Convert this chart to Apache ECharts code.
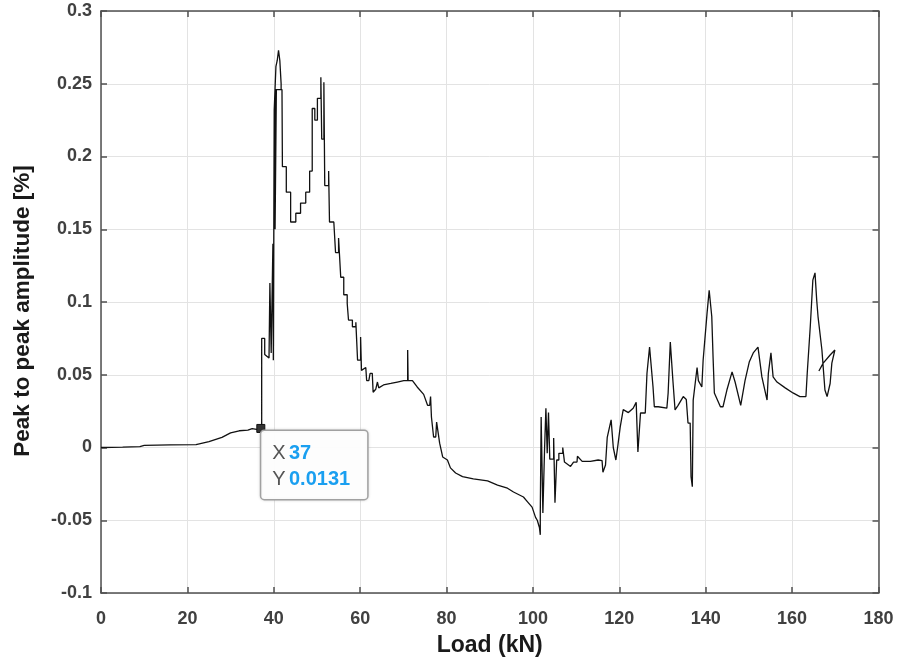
<!DOCTYPE html>
<html>
<head>
<meta charset="utf-8">
<script src="https://cdn.jsdelivr.net/npm/echarts@6/dist/echarts.min.js"></script>
<style>html,body{margin:0;padding:0;background:#fff}#c{width:897px;height:658px}</style>
</head>
<body>
<div id="c"></div>
<script>
// Load (kN)
const loads = [
0,5,9,10,16,22,25,28,30,32,34,35,36,37.2,
37.2,37.9,37.9,38.9,39.1,39.1,39.4,39.4,39.8,39.8,39.9,39.9,40.1,40.1,40.4,40.5,40.8,41.1,41.4,41.7,41.7,40.3,40.3,40.6,40.6,41.9,42.0,42.9,42.9,43.9,43.9,45.1,45.1,46.2,46.2,47.4,47.4,48.3,48.3,48.9,48.9,49.5,49.5,50.1,50.1,50.9,50.9,51.1,51.1,51.6,51.6,51.8,51.8,52.7,52.7,52.9,52.9,53.9,54.3,54.3,55.0,55.0,55.3,55.5,56.2,56.2,57.0,57.0,57.3,57.3,58.2,58.2,59.0,59.0,59.4,59.4,60.1,60.1,60.3,60.3,61.3,61.5,62.0,62.3,62.8,63.0,63.6,64.0,64.3,65.4,67.1,68.6,70.1,71.0,71.0,71.1,72.1,73.2,73.5,74.7,75.6,76.1,76.3,76.5,77.0,77.5,77.7,78.0,78.4,79.1,80.2,80.9,82.1,83.7,86.2,89.5,91.8,94.1,95.5,97.8,98.8,99.8,100.6,
101.0,101.5,101.7,101.7,101.9,101.9,102.3,102.3,102.7,102.7,103.0,103.0,103.3,103.3,103.6,103.6,103.9,103.9,104.8,104.8,105.1,105.1,105.5,105.5,106.0,106.0,106.9,106.9,107.3,107.3,108.7,109.4,110.2,110.3,111.4,113.3,115.1,116.0,116.2,116.8,117.2,117.6,118.1,118.4,118.6,119.2,119.6,120.2,120.9,122.1,123.2,123.9,124.1,124.3,124.6,124.9,126.0,126.4,127.0,127.2,127.8,128.1,129.0,131.0,131.3,131.8,132.0,132.4,132.9,133.6,134.8,135.5,135.9,136.4,136.6,136.9,137.1,138.0,138.3,139.1,139.4,140.3,140.8,141.0,141.4,141.7,142.0,143.4,144.0,144.9,146.1,146.8,148.1,149.1,150.1,151.0,152.1,153.0,154.2,154.5,155.1,155.6,156.5,158.4,160.2,161.8,163.2,163.5,164.2,164.8,165.3,165.7,166.0,166.9,167.6,168.1,168.8,169.2,169.9,168.8,167.2,166.2
];
// Peak to peak amplitude [%]
const amps = [
0,0.0003,0.0006,0.0015,0.0018,0.002,0.004,0.007,0.010,0.0115,0.012,0.013,0.0125,0.0131,
0.075,0.075,0.064,0.0615,0.0615,0.113,0.113,0.065,0.065,0.14,0.14,0.06,0.06,0.232,0.232,0.262,0.266,0.273,0.266,0.25,0.246,0.246,0.15,0.15,0.246,0.246,0.193,0.193,0.1755,0.1755,0.155,0.155,0.161,0.161,0.168,0.168,0.1755,0.1755,0.19,0.19,0.233,0.233,0.225,0.225,0.24,0.24,0.2545,0.2545,0.212,0.212,0.251,0.251,0.18,0.18,0.19,0.19,0.155,0.155,0.154,0.134,0.134,0.144,0.144,0.117,0.117,0.105,0.105,0.099,0.099,0.0876,0.0876,0.083,0.083,0.086,0.086,0.060,0.060,0.076,0.076,0.053,0.055,0.046,0.046,0.051,0.051,0.038,0.040,0.045,0.041,0.043,0.044,0.045,0.046,0.046,0.067,0.046,0.046,0.0416,0.0416,0.0365,0.029,0.029,0.035,0.021,0.0072,0.0072,0.0175,0.0175,0.003,-0.0065,-0.0086,-0.014,-0.0175,-0.020,-0.0216,-0.023,-0.0258,-0.028,-0.0306,-0.034,-0.0375,-0.041,-0.048,
-0.05,-0.055,-0.06,-0.045,-0.045,0.021,0.021,-0.045,-0.045,0.0,0.0,0.027,0.027,-0.004,-0.004,0.024,0.024,-0.008,-0.008,0.0065,0.0065,-0.038,-0.038,-0.0086,-0.0086,-0.004,-0.004,0.0,0.0,-0.01,-0.013,-0.01,-0.01,-0.006,-0.0095,-0.0095,-0.0086,-0.009,-0.017,-0.012,0.007,0.007,0.019,0.019,0.0,-0.0086,0.0,0.014,0.026,0.024,0.027,0.031,0.031,-0.003,-0.003,0.0237,0.0237,0.051,0.069,0.069,0.0416,0.028,0.028,0.027,0.0375,0.0725,0.0725,0.046,0.0258,0.029,0.035,0.033,0.0168,0.0168,-0.02,-0.027,0.0326,0.055,0.046,0.0416,0.060,0.092,0.108,0.108,0.09,0.062,0.0375,0.028,0.028,0.0395,0.052,0.045,0.029,0.046,0.059,0.065,0.069,0.0485,0.0326,0.051,0.065,0.0485,0.045,0.041,0.0375,0.035,0.035,0.051,0.083,0.115,0.12,0.101,0.09,0.067,0.0395,0.035,0.044,0.058,0.067,0.0636,0.058,0.0526
];
const xTicks = [0,20,40,60,80,100,120,140,160,180];
const yTicks = [-0.1,-0.05,0,0.05,0.1,0.15,0.2,0.25,0.3];
const tipX = 37, tipY = 0.0131;

const pts = loads.map((x,i)=>[x, amps[i]]);
const chart = echarts.init(document.getElementById('c'), null, {renderer:'canvas'});
const axCol = '#505050';
const FF = 'Liberation Sans, Arial, sans-serif';
const lblStyle = {color:'#404040', fontWeight:'bold', fontSize:18, fontFamily:FF};
const boxAxis = (pos) => ({
  type:'value', position:pos,
  axisLine:{show:true, onZero:false, lineStyle:{color:axCol, width:1.5}},
  axisTick:{show:true, inside:true, length:6, lineStyle:{color:axCol, width:1.5}},
  axisLabel:{show:false}, splitLine:{show:false}
});
chart.setOption({
  animation:false,
  backgroundColor:'#fff',
  grid:{left:101, right:18.5, top:11, bottom:65, containLabel:false, outerBoundsMode:'none'},
  xAxis:[{
    type:'value', position:'bottom', min:xTicks[0], max:xTicks[xTicks.length-1], interval:20,
    name:'Load (kN)', nameLocation:'middle', nameGap:41,
    nameTextStyle:{color:'#1a1a1a', fontWeight:'bold', fontSize:23, fontFamily:FF},
    axisLine:{show:true, onZero:false, lineStyle:{color:axCol, width:1.5}},
    axisTick:{show:true, inside:true, length:6, lineStyle:{color:axCol, width:1.5}},
    axisLabel:Object.assign({margin:17}, lblStyle),
    splitLine:{show:true, lineStyle:{color:'#e3e3e3', width:1}}
  }, Object.assign(boxAxis('top'), {min:xTicks[0], max:xTicks[xTicks.length-1], interval:20})],
  yAxis:[{
    type:'value', position:'left', min:yTicks[0], max:yTicks[yTicks.length-1], interval:0.05,
    name:'Peak to peak amplitude [%]', nameLocation:'middle', nameGap:67, nameRotate:90,
    nameTextStyle:{color:'#1a1a1a', fontWeight:'bold', fontSize:22.5, fontFamily:FF, padding:[0,18,0,0]},
    axisLine:{show:true, onZero:false, lineStyle:{color:axCol, width:1.5}},
    axisTick:{show:true, inside:true, length:6, lineStyle:{color:axCol, width:1.5}},
    axisLabel:Object.assign({margin:9, formatter:v=>String(parseFloat(v.toFixed(2)))}, lblStyle),
    splitLine:{show:true, lineStyle:{color:'#e3e3e3', width:1}}
  }, Object.assign(boxAxis('right'), {min:yTicks[0], max:yTicks[yTicks.length-1], interval:0.05})],
  series:[{
    type:'line', data:pts, showSymbol:false, symbol:'none',
    lineStyle:{color:'#111', width:1.3}, z:3,
    markPoint:{
      symbol:'rect', symbolSize:8,
      itemStyle:{color:'#333', borderColor:'#111', borderWidth:1},
      data:[{coord:[tipX, tipY]}],
      label:{
        show:true, position:[5,7],
        formatter:'{k|X} {v|' + tipX + '}\n{k|Y} {v|' + tipY + '}',
        backgroundColor:'rgba(255,255,255,0.95)', borderColor:'#a8a8a8', borderWidth:1.5, borderRadius:3,
        padding:[10,17,6,11],
        shadowColor:'rgba(0,0,0,0.15)', shadowBlur:3,
        rich:{
          k:{color:'#555', fontSize:20, lineHeight:26, fontFamily:FF},
          v:{color:'#1a9ff0', fontSize:20, fontWeight:'bold', lineHeight:26, fontFamily:FF}
        }
      }
    }
  }]
});
</script>
</body>
</html>
